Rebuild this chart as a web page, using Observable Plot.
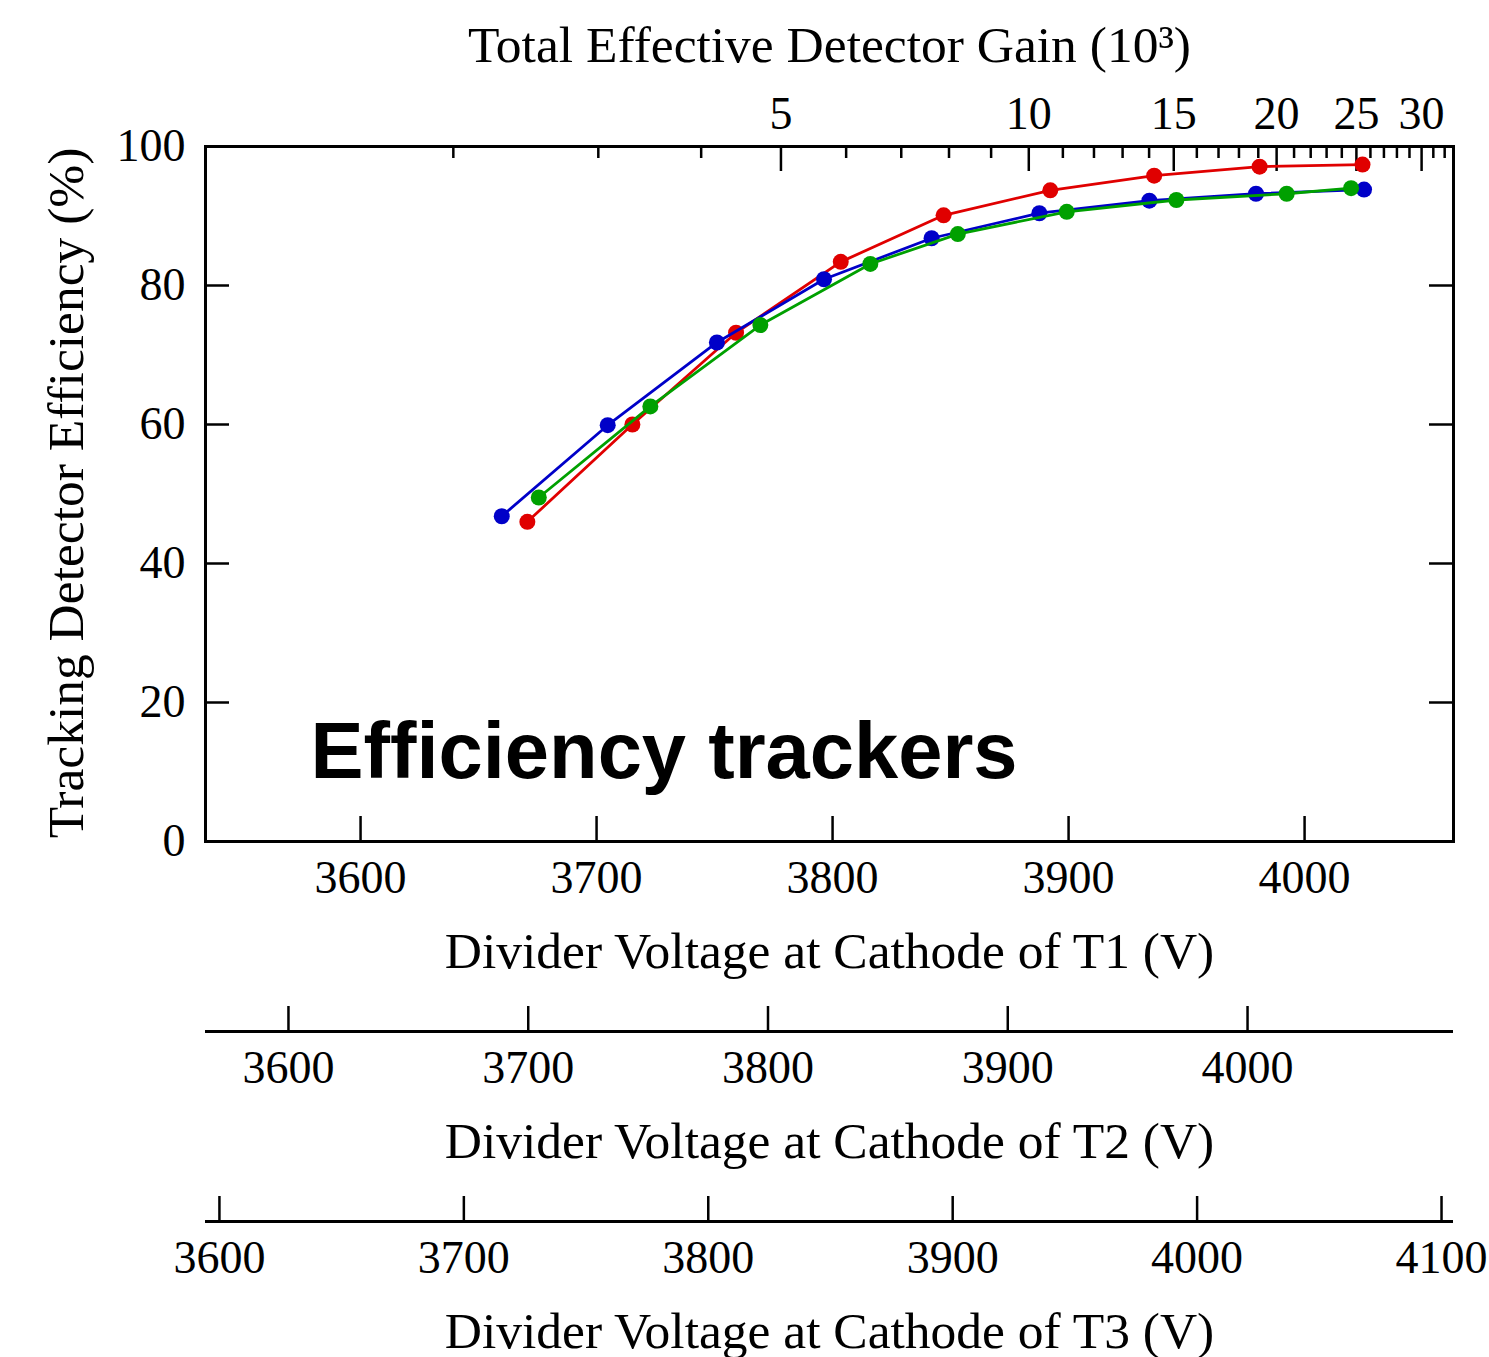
<!DOCTYPE html>
<html><head><meta charset="utf-8">
<script src="https://cdn.jsdelivr.net/npm/d3@7"></script>
<script src="https://cdn.jsdelivr.net/npm/@observablehq/plot@0.6"></script>
<style>
html,body{margin:0;padding:0;background:#fff;overflow:hidden;}
#chart{position:relative;width:1489px;height:1357px;overflow:hidden;}
#chart svg{position:absolute;left:0;}
</style></head><body><div id="chart"></div>
<script>
// ---- data ----
const seriesNames = ["red", "blue", "green"];
const seriesColors = ["#e00000", "#0000c8", "#00a000"];
const gainRed   = [2.46, 3.30, 4.41, 5.91, 7.88, 10.62, 14.20, 19.07, 25.43];
const effRed    = [46.0, 60.0, 73.2, 83.4, 90.1, 93.7, 95.8, 97.1, 97.4];
const gainBlue  = [2.29, 3.08, 4.18, 5.64, 7.62, 10.30, 14.01, 18.88, 25.54];
const effBlue   = [46.8, 59.9, 71.8, 80.9, 86.8, 90.4, 92.2, 93.2, 93.8];
const gainGreen = [2.54, 3.47, 4.72, 6.42, 8.20, 11.12, 15.11, 20.57, 24.63];
const effGreen  = [49.5, 62.6, 74.3, 83.1, 87.4, 90.6, 92.3, 93.2, 94.0];

const yTicks = [0, 20, 40, 60, 80, 100];
const gainMajorTicks = [5, 10, 15, 20, 25, 30];
const gainMinorTicks = [2,3,4,6,7,8,9,11,12,13,14,16,17,18,19,21,22,23,24,26,27,28,29,31,32];
const t1Ticks = [3600, 3700, 3800, 3900, 4000];
const t2Ticks = [3600, 3700, 3800, 3900, 4000];
const t3Ticks = [3600, 3700, 3800, 3900, 4000, 4100];
const gainDomain = [1, 32.8];
const t1Domain = [3534.3, 4063.1];
const t2Domain = [3565.4, 4085.9];
const t3Domain = [3594.3, 4104.9];
const yDomain = [0, 100];

const titleTop = "Total Effective Detector Gain (10\u00B3)";
const titleY = "Tracking Detector Efficiency (%)";
const titleT1 = "Divider Voltage at Cathode of T1 (V)";
const titleT2 = "Divider Voltage at Cathode of T2 (V)";
const titleT3 = "Divider Voltage at Cathode of T3 (V)";
const annotation = "Efficiency trackers";

// ---- layout ----
const W = 1489, H = 1357;
const ML = 205, MR = 36, MT = 146, frameBottom = 841;
const frameW = W - ML - MR, frameH = frameBottom - MT;
const serif = "'Liberation Serif', 'Times New Roman', serif";
const tickFont = 46, titleFont = 51.5;

const gains = [gainRed, gainBlue, gainGreen];
const effs = [effRed, effBlue, effGreen];
const rows = seriesNames.map((s, i) => gains[i].map((g, j) => ({series: s, gain: g, eff: effs[i][j]})));

const seriesMarks = [];
rows.forEach((r, i) => {
  seriesMarks.push(Plot.line(r, {x: "gain", y: "eff", stroke: seriesColors[i], strokeWidth: 2.8}));
  seriesMarks.push(Plot.dot(r, {x: "gain", y: "eff", fill: seriesColors[i], r: 8}));
});

const main = Plot.plot({
  width: W, height: H,
  marginLeft: ML, marginRight: MR, marginTop: MT, marginBottom: H - frameBottom,
  style: {fontFamily: serif, fontSize: tickFont + "px", color: "black", background: "white", overflow: "visible"},
  x: {type: "log", domain: gainDomain},
  y: {domain: yDomain},
  marks: [
    Plot.tickX(gainMinorTicks, {x: d => d, insetBottom: frameH - 12, stroke: "black", strokeWidth: 2.5}),
    Plot.tickX(gainMajorTicks, {x: d => d, insetBottom: frameH - 25, stroke: "black", strokeWidth: 2.5}),
    Plot.tickY(yTicks, {y: d => d, insetRight: frameW - 24, stroke: "black", strokeWidth: 2.5}),
    Plot.tickY(yTicks, {y: d => d, insetLeft: frameW - 24, stroke: "black", strokeWidth: 2.5}),
    Plot.axisX({anchor: "top", ticks: gainMajorTicks, tickSize: 0, tickPadding: 18, tickFormat: d => String(d), fontSize: tickFont, label: null}),
    Plot.axisY({anchor: "left", ticks: yTicks, tickSize: 0, tickPadding: 20, tickFormat: d => String(d), fontSize: tickFont, label: null}),
    ...seriesMarks,
    Plot.frame({stroke: "black", strokeWidth: 3}),
    Plot.text([titleTop], {text: d => d, frameAnchor: "top", dy: -85, textAnchor: "middle", lineAnchor: "bottom", fontSize: titleFont, fill: "black"}),
    Plot.text([titleY], {text: d => d, frameAnchor: "left", dx: -139, dy: -1, rotate: -90, textAnchor: "middle", lineAnchor: "middle", fontSize: titleFont, fill: "black"}),
    Plot.text([annotation], {text: d => d, frameAnchor: "bottom-left", dx: 105, dy: -64, textAnchor: "start", lineAnchor: "bottom",
      fontSize: 79.5, fontWeight: "bold", fontFamily: "'Liberation Sans', Arial, sans-serif", fill: "black"})
  ]
});
main.style.top = "0px";
document.getElementById("chart").appendChild(main);

function voltageAxis(domain, ticks, label, lineY, drawLine) {
  const h = 170, lineInSvg = 30;
  const svg = Plot.plot({
    width: W, height: h,
    marginLeft: ML, marginRight: MR, marginTop: lineInSvg - 25, marginBottom: h - lineInSvg,
    style: {fontFamily: serif, fontSize: tickFont + "px", color: "black", background: "none", overflow: "visible"},
    x: {domain},
    y: {domain: [0, 1], axis: null},
    marks: [
      drawLine ? Plot.ruleY([0], {stroke: "black", strokeWidth: 3}) : null,
      Plot.ruleX(ticks, {x: d => d, y1: 0, y2: 1, stroke: "black", strokeWidth: 2.5}),
      Plot.axisX({anchor: "bottom", ticks, tickSize: 0, tickPadding: 19, tickFormat: d => String(d), fontSize: tickFont, label: null}),
      Plot.text([label], {text: d => d, frameAnchor: "bottom", dy: 126, textAnchor: "middle", lineAnchor: "bottom", fontSize: titleFont, fill: "black"})
    ]
  });
  svg.style.top = (lineY - lineInSvg) + "px";
  document.getElementById("chart").appendChild(svg);
}
voltageAxis(t1Domain, t1Ticks, titleT1, frameBottom, false);
voltageAxis(t2Domain, t2Ticks, titleT2, 1031, true);
voltageAxis(t3Domain, t3Ticks, titleT3, 1221, true);
</script></body></html>
